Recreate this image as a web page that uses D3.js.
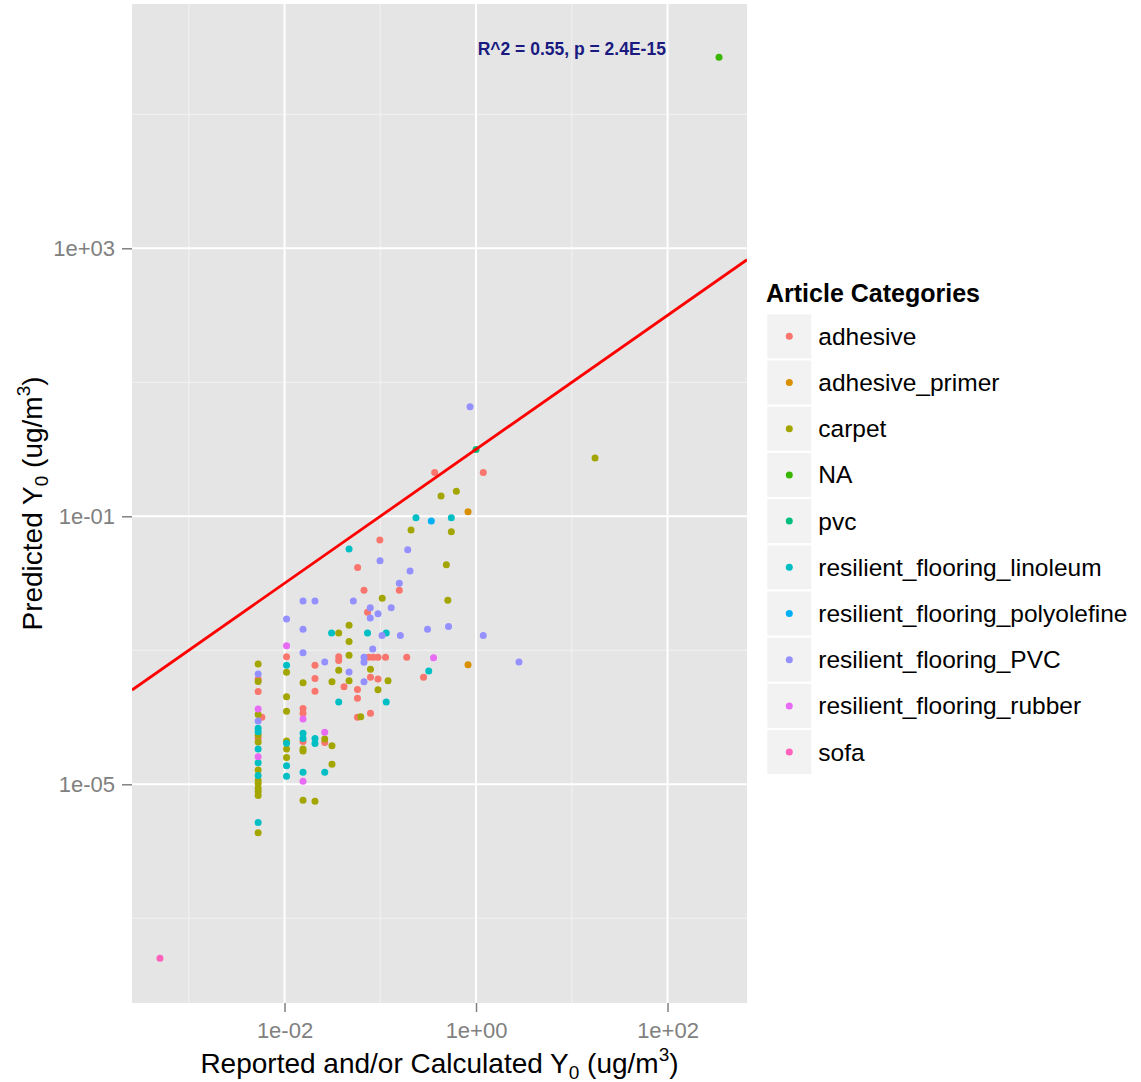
<!DOCTYPE html>
<html>
<head>
<meta charset="utf-8">
<script src="https://cdn.jsdelivr.net/npm/d3@7"></script>
<style>
  body { margin: 0; background: #ffffff; }
  svg { display: block; }
  text { font-family: "Liberation Sans", Arial, Helvetica, sans-serif; }
</style>
</head>
<body>
<svg id="chart" width="1141" height="1082"></svg>
<script>
// ---- data: [reported Y0, predicted Y0] per article category (ug/m3) ----
const categories = [
  "adhesive", "adhesive_primer", "carpet", "NA", "pvc",
  "resilient_flooring_linoleum", "resilient_flooring_polyolefine",
  "resilient_flooring_PVC", "resilient_flooring_rubber", "sofa"
];
const categoryColors = [
  "#F8766D", "#D89000", "#A3A500", "#39B600", "#00BF7D",
  "#00BFC4", "#00B0F6", "#9590FF", "#E76BF3", "#FF62BC"
];

const adhesive = [
  [0.058, 0.0172], [0.0676, 0.0079], [0.158, 0.0079], [0.0736, 0.0037], [0.099, 0.0443],
  [0.37, 0.45], [1.19, 0.45], [0.0368, 0.0008], [0.0368, 0.000705], [0.0757, 0.00079],
  [0.0846, 0.00079], [0.0947, 0.00079], [0.1135, 0.00079], [0.189, 0.00079], [0.0105, 0.0008],
  [0.0208, 0.0006], [0.283, 0.000395], [0.0208, 0.00038], [0.079, 0.000395], [0.0947, 0.000373],
  [0.0418, 0.000286], [0.0578, 0.00026], [0.0208, 0.000244], [0.0578, 0.000192], [0.0156, 0.000135],
  [0.0156, 0.000115], [0.0578, 0.0001], [0.079, 0.000115], [0.0156, 4.35e-5], [0.0263, 4.21e-5],
  [0.0053, 0.000369], [0.0053, 0.000243], [0.0053, 4.86e-5], [0.0058, 0.0001]
];
const adhesivePrimer = [[0.825, 0.117], [0.825, 0.000608]];
const carpet = [
  [0.49, 0.0189], [0.1048, 0.006], [0.5075, 0.00557], [0.0472, 0.00236], [0.0368, 0.00182],
  [0.0472, 0.00135], [0.0472, 0.000845], [0.0368, 0.000505], [0.079, 0.000522], [0.0105, 0.00047],
  [0.0472, 0.000352], [0.0313, 0.00034], [0.1205, 0.000351], [0.0156, 0.000327], [0.0947, 0.000258],
  [0.0105, 0.000203], [0.0105, 0.000123], [0.0625, 0.000102], [0.0263, 4.75e-5], [0.0313, 3.77e-5],
  [0.0313, 1.99e-5], [0.0156, 3.36e-5], [0.0156, 3.14e-5], [0.0208, 5.6e-6], [0.0156, 5.8e-6],
  [0.0105, 4.43e-5], [0.0105, 3.36e-5], [0.0105, 2.51e-5], [0.2095, 0.0625], [0.552, 0.0589],
  [0.431, 0.201], [0.623, 0.236], [17.5, 0.741],
  [0.0053, 0.000625], [0.0053, 0.000342], [0.0053, 0.00011], [0.0053, 5.44e-5], [0.0053, 4.28e-5],
  [0.0053, 1.63e-5], [0.0053, 1.14e-5], [0.0053, 1.03e-5], [0.0053, 8.7e-6], [0.0053, 7.8e-6],
  [0.0053, 6.8e-6], [0.0053, 1.9e-6]
];
const naGroup = [[345, 710000]];
const pvc = [[1.0, 0.99]];
const linoleum = [
  [0.0472, 0.0325], [0.236, 0.0953], [0.552, 0.0953], [0.031, 0.00182], [0.0736, 0.00181],
  [0.1154, 0.00181], [0.0105, 0.000597], [0.3207, 0.000491], [0.0368, 0.000169], [0.1154, 0.000169],
  [0.0156, 5.77e-5], [0.0156, 4.83e-5], [0.0208, 4.83e-5], [0.0208, 4.06e-5], [0.0105, 4.09e-5],
  [0.0105, 1.9e-5], [0.0105, 1.32e-5], [0.0263, 1.51e-5], [0.0156, 1.51e-5],
  [0.0053, 6.86e-5], [0.0053, 6.1e-5], [0.0053, 3.36e-5], [0.0053, 2.1e-5], [0.0053, 1.35e-5],
  [0.0053, 2.7e-6]
];
const polyolefine = [[0.341, 0.0851]];
const pvcFlooring = [
  [0.866, 4.32], [0.0994, 0.0217], [0.1935, 0.0317], [0.2046, 0.0153], [0.158, 0.01],
  [0.0156, 0.00544], [0.0208, 0.00544], [0.0523, 0.00544], [0.13, 0.00432], [0.0786, 0.00432],
  [0.0947, 0.00351], [0.0786, 0.00303], [0.0105, 0.00293], [0.0156, 0.00206], [0.1043, 0.00166],
  [0.162, 0.00166], [0.3115, 0.00206], [0.516, 0.00227], [1.19, 0.00166], [0.0834, 0.001045],
  [0.0156, 0.000918], [0.0263, 0.000669], [0.0676, 0.000788], [0.0676, 0.000664], [0.0472, 0.000474],
  [0.0676, 0.000339], [2.81, 0.000669], [0.0053, 0.000443], [0.0053, 8.81e-5]
];
const rubber = [
  [0.0105, 0.00117], [0.36, 0.000773], [0.0156, 9.44e-5], [0.0263, 6.0e-5], [0.0156, 1.11e-5],
  [0.0053, 0.000133], [0.0053, 2.58e-5]
];
const sofa = [[0.0005, 2.53e-8]];

const seriesValues = [adhesive, adhesivePrimer, carpet, naGroup, pvc,
                      linoleum, polyolefine, pvcFlooring, rubber, sofa];

const xMajorTicks = [1e-2, 1e0, 1e2];
const xMinorTicks = [1e-3, 1e-1, 1e1];
const yMajorTicks = [1e3, 1e-1, 1e-5];
const yMinorTicks = [1e5, 1e1, 1e-3, 1e-7];
const xDomainExp = [-3.593, 2.830];
const yDomainExp = [-8.264, 6.646];
const statsLabel = { x: 10, y: 1e6, text: "R^2 = 0.55, p = 2.4E-15" };

// ---- layout ----
const panel = { left: 132, top: 4, right: 747, bottom: 1003 };
const pointR = 3.5;

const svg = d3.select("#chart");
svg.append("rect").attr("width", 1141).attr("height", 1082).attr("fill", "#ffffff");

const x = d3.scaleLog().domain(xDomainExp.map(e => Math.pow(10, e))).range([panel.left, panel.right]);
const y = d3.scaleLog().domain(yDomainExp.map(e => Math.pow(10, e))).range([panel.bottom, panel.top]);

const sciFormat = d => {
  const e = Math.round(Math.log10(d));
  return "1e" + (e < 0 ? "-" : "+") + String(Math.abs(e)).padStart(2, "0");
};

// panel background
svg.append("rect")
  .attr("x", panel.left).attr("y", panel.top)
  .attr("width", panel.right - panel.left).attr("height", panel.bottom - panel.top)
  .attr("fill", "#E5E5E5");

// grid
const grid = svg.append("g");
grid.selectAll("line.xmin").data(xMinorTicks).join("line")
  .attr("x1", d => x(d)).attr("x2", d => x(d)).attr("y1", panel.top).attr("y2", panel.bottom)
  .attr("stroke", "#F2F2F2").attr("stroke-width", 1);
grid.selectAll("line.ymin").data(yMinorTicks).join("line")
  .attr("y1", d => y(d)).attr("y2", d => y(d)).attr("x1", panel.left).attr("x2", panel.right)
  .attr("stroke", "#F2F2F2").attr("stroke-width", 1);
grid.selectAll("line.xmaj").data(xMajorTicks).join("line")
  .attr("x1", d => x(d)).attr("x2", d => x(d)).attr("y1", panel.top).attr("y2", panel.bottom)
  .attr("stroke", "#FFFFFF").attr("stroke-width", 2);
grid.selectAll("line.ymaj").data(yMajorTicks).join("line")
  .attr("y1", d => y(d)).attr("y2", d => y(d)).attr("x1", panel.left).attr("x2", panel.right)
  .attr("stroke", "#FFFFFF").attr("stroke-width", 2);

// axes
const xAxis = svg.append("g").attr("transform", `translate(0,${panel.bottom})`)
  .call(d3.axisBottom(x).tickValues(xMajorTicks).tickFormat(sciFormat).tickSize(9).tickPadding(10));
const yAxis = svg.append("g").attr("transform", `translate(${panel.left},0)`)
  .call(d3.axisLeft(y).tickValues(yMajorTicks).tickFormat(sciFormat).tickSize(10).tickPadding(7));
[xAxis, yAxis].forEach(a => {
  a.select(".domain").remove();
  a.selectAll(".tick line").attr("stroke", "#808080").attr("stroke-width", 1.5);
  a.selectAll(".tick text").attr("fill", "#808080").style("font-size", "22px")
    .style("font-family", "'Liberation Sans', Arial, Helvetica, sans-serif");
});

// points
const clipId = "panel-clip";
svg.append("clipPath").attr("id", clipId).append("rect")
  .attr("x", panel.left).attr("y", panel.top)
  .attr("width", panel.right - panel.left).attr("height", panel.bottom - panel.top);

const pts = svg.append("g").attr("clip-path", `url(#${clipId})`);
seriesValues.forEach((vals, i) => {
  pts.append("g").selectAll("circle").data(vals).join("circle")
    .attr("cx", d => x(d[0])).attr("cy", d => y(d[1])).attr("r", pointR)
    .attr("fill", categoryColors[i]);
});

// 1:1 reference line
const xd = x.domain();
pts.append("line")
  .attr("x1", x(xd[0])).attr("y1", y(xd[0]))
  .attr("x2", x(xd[1])).attr("y2", y(xd[1]))
  .attr("stroke", "#FF0000").attr("stroke-width", 2.8);

// fit statistics
svg.append("text")
  .attr("x", x(statsLabel.x)).attr("y", y(statsLabel.y)).attr("dy", 2)
  .attr("text-anchor", "middle").attr("dominant-baseline", "central")
  .attr("fill", "#1A1A80").style("font-size", "17.5px").style("font-weight", "bold")
  .text(statsLabel.text);

// axis titles
const xTitle = svg.append("text")
  .attr("x", (panel.left + panel.right) / 2).attr("y", 1073)
  .attr("text-anchor", "middle").attr("fill", "#000").style("font-size", "28px");
xTitle.append("tspan").text("Reported and/or Calculated Y");
xTitle.append("tspan").attr("dy", 6).style("font-size", "19px").text("0");
xTitle.append("tspan").attr("dy", -6).text(" (ug/m");
xTitle.append("tspan").attr("dy", -12).style("font-size", "19px").text("3");
xTitle.append("tspan").attr("dy", 12).text(")");

const yTitle = svg.append("text")
  .attr("transform", `translate(41.5,${(panel.top + panel.bottom) / 2}) rotate(-90)`)
  .attr("text-anchor", "middle").attr("fill", "#000").style("font-size", "28px");
yTitle.append("tspan").text("Predicted Y");
yTitle.append("tspan").attr("dy", 6).style("font-size", "19px").text("0");
yTitle.append("tspan").attr("dy", -6).text(" (ug/m");
yTitle.append("tspan").attr("dy", -12).style("font-size", "19px").text("3");
yTitle.append("tspan").attr("dy", 12).text(")");

// legend
const legend = svg.append("g");
legend.append("text").attr("x", 766).attr("y", 301.7)
  .attr("fill", "#000").style("font-size", "25px").style("font-weight", "bold")
  .text("Article Categories");
const keyTop = 314.3, keyPitch = 46.2, keySize = 44, keyLeft = 767.3;
const item = legend.selectAll("g.item").data(categories).join("g")
  .attr("transform", (d, i) => `translate(${keyLeft},${keyTop + i * keyPitch})`);
item.append("rect").attr("width", keySize).attr("height", keySize).attr("fill", "#F2F2F2");
item.append("circle").attr("cx", keySize / 2).attr("cy", keySize / 2).attr("r", pointR)
  .attr("fill", (d, i) => categoryColors[i]);
item.append("text").attr("x", 51).attr("y", keySize / 2).attr("dominant-baseline", "central")
  .attr("fill", "#000").style("font-size", "24.5px").text(d => d);
</script>
</body>
</html>
